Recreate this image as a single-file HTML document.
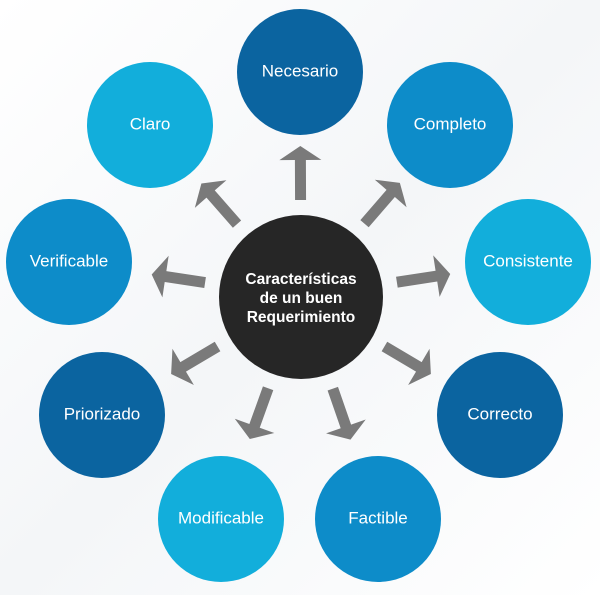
<!DOCTYPE html>
<html><head><meta charset="utf-8">
<style>
html,body{margin:0;padding:0;background:#fff;}
svg{display:block;}
text{font-family:"Liberation Sans","DejaVu Sans",sans-serif;fill:#fff;text-anchor:middle;dominant-baseline:middle;}
</style></head>
<body>
<svg id="d" width="600" height="595" viewBox="0 0 600 595">
<defs>
<linearGradient id="bg" x1="0" y1="0" x2="1" y2="1">
<stop offset="0" stop-color="#ffffff"/><stop offset="0.5" stop-color="#f4f6f8"/><stop offset="1" stop-color="#ffffff"/>
</linearGradient>
</defs>
<rect width="600" height="595" fill="url(#bg)"/>
<g id="arrows"></g>
<g id="nodes"></g>
<circle cx="301" cy="297" r="82" fill="#262626"/>
<text x="301" y="280" font-size="15.5" font-weight="bold">Características</text>
<text x="301" y="299" font-size="15.5" font-weight="bold">de un buen</text>
<text x="301" y="318" font-size="15.5" font-weight="bold">Requerimiento</text>
</svg>
<script>
const labels=["Necesario","Completo","Consistente","Correcto","Factible","Modificable","Priorizado","Verificable","Claro"];
const nodeX=[300,450,528,500,378,221,102,69,150];
const nodeY=[72,125,262,415,519,519,415,262,125];
const colors=["#0b64a0","#0d8cc9","#12aedb","#0b64a0","#0d8cc9","#12aedb","#0b64a0","#0d8cc9","#12aedb"];
const NS="http://www.w3.org/2000/svg";
const cx=301,cy=297;
const ag=document.getElementById('arrows'),ng=document.getElementById('nodes');
for(let i=0;i<labels.length;i++){
  const a=Math.atan2(nodeY[i]-cy,nodeX[i]-cx)*180/Math.PI;
  const p=document.createElementNS(NS,'polygon');
  p.setAttribute('points','97,-5.5 137,-5.5 137,-22 150,0 137,22 137,5.5 97,5.5'.replace(/137,-22 150,0 137,22/,'137,-22 151,0 137,22'));
  p.setAttribute('points','97,-5.5 137,-5.5 137,-21 151,0 137,21 137,5.5 97,5.5');
  p.setAttribute('fill','#7a7a7a');
  p.setAttribute('transform','translate('+cx+','+cy+') rotate('+a+')');
  
  
  ag.appendChild(p);
  const c=document.createElementNS(NS,'circle');
  c.setAttribute('cx',nodeX[i]);c.setAttribute('cy',nodeY[i]);c.setAttribute('r',63);
  c.setAttribute('fill',colors[i]);
  
  
  ng.appendChild(c);
  const t=document.createElementNS(NS,'text');
  t.setAttribute('x',nodeX[i]);t.setAttribute('y',nodeY[i]);
  t.setAttribute('font-size','17');
  t.textContent=labels[i];
  
  
  ng.appendChild(t);
}
</script>
</body></html>
